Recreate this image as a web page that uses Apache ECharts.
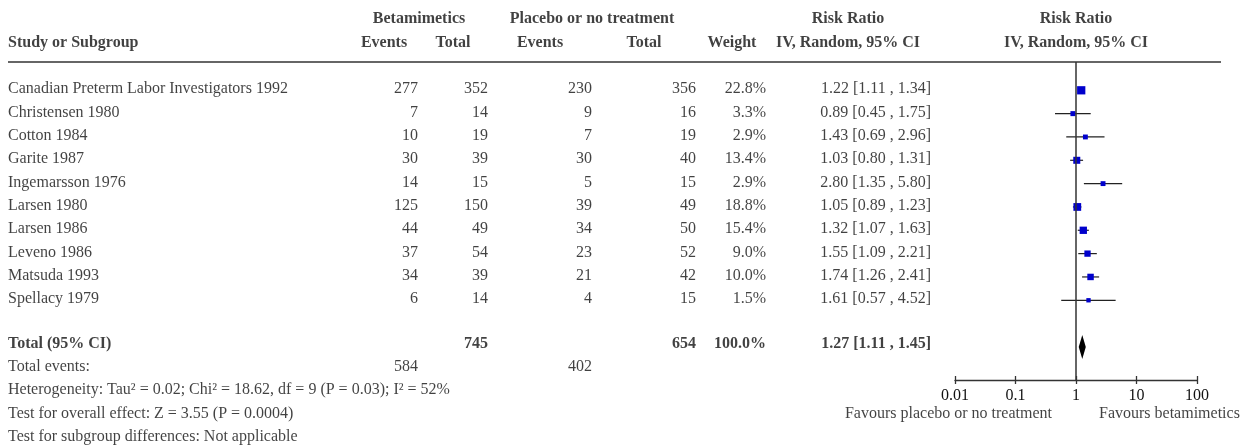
<!DOCTYPE html>
<html>
<head>
<meta charset="utf-8">
<script src="https://cdn.jsdelivr.net/npm/echarts@6/dist/echarts.min.js"></script>
<style>
  html, body { margin: 0; padding: 0; background: #fff; }
  #main { width: 1251px; height: 446px; }
</style>
</head>
<body>
<div id="main"></div>
<script>
// data
var studies = ['Canadian Preterm Labor Investigators 1992', 'Christensen 1980', 'Cotton 1984', 'Garite 1987',
  'Ingemarsson 1976', 'Larsen 1980', 'Larsen 1986', 'Leveno 1986', 'Matsuda 1993', 'Spellacy 1979'];
var betEvents = [277, 7, 10, 30, 14, 125, 44, 37, 34, 6];
var betTotal = [352, 14, 19, 39, 15, 150, 49, 54, 39, 14];
var plcEvents = [230, 9, 7, 30, 5, 39, 34, 23, 21, 4];
var plcTotal = [356, 16, 19, 40, 15, 49, 50, 52, 42, 15];
var weights = [22.8, 3.3, 2.9, 13.4, 2.9, 18.8, 15.4, 9.0, 10.0, 1.5];
var rr = [1.22, 0.89, 1.43, 1.03, 2.80, 1.05, 1.32, 1.55, 1.74, 1.61];
var rrLow = [1.11, 0.45, 0.69, 0.80, 1.35, 0.89, 1.07, 1.09, 1.26, 0.57];
var rrHigh = [1.34, 1.75, 2.96, 1.31, 5.80, 1.23, 1.63, 2.21, 2.41, 4.52];

var totalN = [745, 654];
var totalWeight = 100.0;
var totalRR = [1.27, 1.11, 1.45];
var totalEvents = [584, 402];
var footnotes = [
  'Heterogeneity: Tau² = 0.02; Chi² = 18.62, df = 9 (P = 0.03); I² = 52%',
  'Test for overall effect: Z = 3.55 (P = 0.0004)',
  'Test for subgroup differences: Not applicable'
];

var tickValues = [0.01, 0.1, 1, 10, 100];
var tickLabels = ['0.01', '0.1', '1', '10', '100'];

var FONT = '"Liberation Serif", "DejaVu Serif", serif';
var INK = '#111';
var TOTAL_ROW = 11;

function fmtCI(m, lo, hi) {
  return m.toFixed(2) + ' [' + lo.toFixed(2) + ' , ' + hi.toFixed(2) + ']';
}

// table text, column x positions in px on the text grid
var texts = [];
function put(x, row, str, align, bold) {
  texts.push({ name: String(str), value: [x, row],
    label: { align: align, fontWeight: bold ? 'bold' : 'normal' } });
}

// headers
put(419, -3, 'Betamimetics', 'center', true);
put(592, -3, 'Placebo or no treatment', 'center', true);
put(848, -3, 'Risk Ratio', 'center', true);
put(1076, -3, 'Risk Ratio', 'center', true);
put(8, -2, 'Study or Subgroup', 'left', true);
put(384, -2, 'Events', 'center', true);
put(453, -2, 'Total', 'center', true);
put(540, -2, 'Events', 'center', true);
put(644, -2, 'Total', 'center', true);
put(732, -2, 'Weight', 'center', true);
put(848, -2, 'IV, Random, 95% CI', 'center', true);
put(1076, -2, 'IV, Random, 95% CI', 'center', true);

studies.forEach(function (s, i) {
  put(8, i, s, 'left');
  put(418, i, betEvents[i], 'right');
  put(488, i, betTotal[i], 'right');
  put(592, i, plcEvents[i], 'right');
  put(696, i, plcTotal[i], 'right');
  put(766, i, weights[i].toFixed(1) + '%', 'right');
  put(931, i, fmtCI(rr[i], rrLow[i], rrHigh[i]), 'right');
});

var totRow = TOTAL_ROW - 0.1;
put(8, totRow, 'Total (95% CI)', 'left', true);
put(488, totRow, totalN[0], 'right', true);
put(696, totRow, totalN[1], 'right', true);
put(766, totRow, totalWeight.toFixed(1) + '%', 'right', true);
put(931, totRow, fmtCI(totalRR[0], totalRR[1], totalRR[2]), 'right', true);

put(8, 11.9, 'Total events:', 'left');
put(418, 11.9, totalEvents[0], 'right');
put(592, 11.9, totalEvents[1], 'right');
footnotes.forEach(function (f, k) {
  put(8, 12.9 + k, f, 'left');
});
put(1052, 13.9, 'Favours placebo or no treatment', 'right');
put(1099, 13.9, 'Favours betamimetics', 'left');

var chart = echarts.init(document.getElementById('main'));

var option = {
  animation: false,
  backgroundColor: '#fff',
  textStyle: { fontFamily: FONT },
  grid: [
    { left: 955, width: 242, top: 62, height: 318 },
    { left: 0, width: 1251, top: 0, height: 446 }
  ],
  xAxis: [
    {
      gridIndex: 0, type: 'log', logBase: 10, min: 0.01, max: 100, interval: 1, position: 'bottom',
      axisLine: { show: true, onZero: false, lineStyle: { color: '#333', width: 1.3 } },
      axisTick: { show: true, length: 4, lineStyle: { color: '#333', width: 1.3 } },
      splitLine: { show: false },
      axisLabel: {
        color: INK, fontSize: 16, fontFamily: FONT, margin: 8,
        formatter: function (v) {
          for (var i = 0; i < tickValues.length; i++) {
            if (Math.abs(Math.log10(v) - Math.log10(tickValues[i])) < 1e-6) return tickLabels[i];
          }
          return '';
        }
      }
    },
    {
      gridIndex: 0, type: 'log', logBase: 10, min: 0.01, max: 100, interval: 1, position: 'bottom',
      axisLine: { show: false, onZero: false },
      axisTick: { show: true, inside: true, length: 4, lineStyle: { color: '#333', width: 1.3 } },
      axisLabel: { show: false },
      splitLine: { show: false }
    },
    { gridIndex: 1, type: 'value', min: 0, max: 1251, show: false }
  ],
  yAxis: [
    { gridIndex: 0, type: 'value', inverse: true, min: -1.213, max: 12.417, show: false },
    { gridIndex: 1, type: 'value', inverse: true, min: -3.870, max: 15.246, show: false }
  ],
  graphic: [
    { type: 'line', shape: { x1: 8, y1: 62, x2: 1221, y2: 62 },
      style: { stroke: '#333', lineWidth: 1.5 }, silent: true }
  ],
  series: [
    {
      // confidence intervals
      type: 'custom',
      xAxisIndex: 0, yAxisIndex: 0,
      encode: { x: [1, 2], y: 0 },
      data: studies.map(function (s, i) { return [i, rrLow[i], rrHigh[i]]; }),
      renderItem: function (params, api) {
        var a = api.coord([api.value(1), api.value(0)]);
        var b = api.coord([api.value(2), api.value(0)]);
        return {
          type: 'line',
          shape: { x1: a[0], y1: a[1], x2: b[0], y2: b[1] },
          style: { stroke: '#222', lineWidth: 1.2 }
        };
      },
      z: 2
    },
    {
      // study estimates
      type: 'scatter',
      xAxisIndex: 0, yAxisIndex: 0,
      symbol: 'rect',
      symbolSize: function (val) { return 3 + 1.1 * Math.sqrt(val[2]); },
      itemStyle: { color: '#0000cc', opacity: 1 },
      data: studies.map(function (s, i) { return [rr[i], i, weights[i]]; }),
      markLine: {
        silent: true, symbol: 'none', label: { show: false },
        lineStyle: { color: '#333', width: 1.5, type: 'solid' },
        data: [{ xAxis: 1 }]
      },
      z: 3
    },
    {
      // pooled diamond
      type: 'custom',
      xAxisIndex: 0, yAxisIndex: 0,
      encode: { x: [0, 1, 2], y: 3 },
      data: [[totalRR[1], totalRR[0], totalRR[2], TOTAL_ROW]],
      renderItem: function (params, api) {
        var lo = api.coord([api.value(0), api.value(3)]);
        var mid = api.coord([api.value(1), api.value(3)]);
        var hi = api.coord([api.value(2), api.value(3)]);
        var h = 12;
        return {
          type: 'polygon',
          shape: { points: [[lo[0], lo[1]], [mid[0], mid[1] - h], [hi[0], hi[1]], [mid[0], mid[1] + h]] },
          style: { fill: '#000' }
        };
      },
      z: 4
    },
    {
      // table text
      type: 'scatter',
      xAxisIndex: 2, yAxisIndex: 1,
      symbolSize: 1,
      silent: true,
      itemStyle: { color: 'rgba(0,0,0,0)' },
      label: {
        show: true, position: 'inside', formatter: '{b}', offset: [0, -1],
        color: INK, fontSize: 16, fontFamily: FONT, verticalAlign: 'middle'
      },
      data: texts,
      z: 5
    }
  ]
};

chart.setOption(option);
</script>
</body>
</html>
